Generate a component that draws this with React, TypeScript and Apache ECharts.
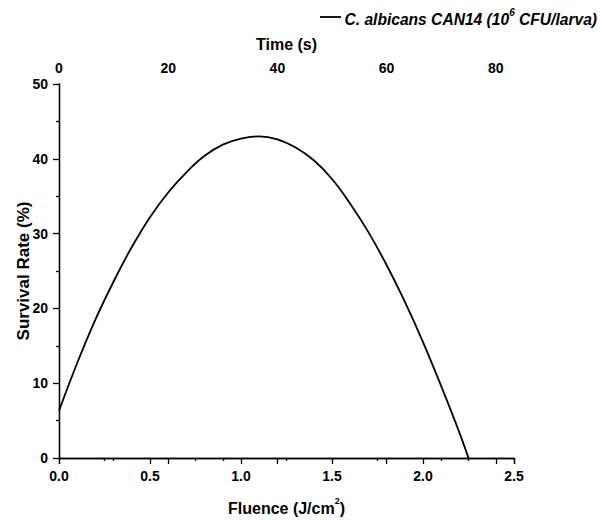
import React, { useEffect, useRef } from "react";
import * as echarts from "echarts";

const fluence = [0, 0.1, 0.2, 0.3, 0.4, 0.5, 0.6, 0.7, 0.8, 0.9, 1.0, 1.1, 1.2, 1.3, 1.4, 1.5, 1.6, 1.7, 1.8, 1.9, 2.0, 2.1, 2.2, 2.25];
const survival = [6.3, 12.7, 18.5, 23.6, 28.2, 32.2, 35.5, 38.2, 40.4, 41.9, 42.7, 43.0, 42.6, 41.5, 39.8, 37.3, 34.0, 30.2, 25.8, 20.9, 15.5, 9.6, 3.4, 0];
const fluenceTicks = [0, 0.5, 1.0, 1.5, 2.0, 2.5];
const timeMax = 83.333;
const seriesName = "C. albicans CAN14";

const FONT = "'Liberation Sans', Arial, sans-serif";

export default function App() {
  const ref = useRef<HTMLDivElement>(null);
  useEffect(() => {
    if (!ref.current) return;
    const chart = echarts.init(ref.current, null, { renderer: "svg" });
    const lbl = { color: "#000", fontFamily: FONT, fontWeight: "bold" as const, fontSize: 14 };
    const nameStyle = { color: "#000", fontFamily: FONT, fontWeight: "bold" as const, fontSize: 16 };
    const line = { show: true, lineStyle: { color: "#000", width: 1.3 } };
    const tick = { color: "#000", width: 1.3 };
    chart.setOption({
      animation: false,
      grid: { left: 59, right: 86, top: 84, bottom: 60, containLabel: false },
      xAxis: [
        {
          type: "value",
          position: "bottom",
          min: fluenceTicks[0],
          max: fluenceTicks[fluenceTicks.length - 1],
          interval: 0.5,
          axisLine: line,
          axisTick: { show: true, inside: false, length: 6, lineStyle: tick },
          minorTick: { show: true, splitNumber: 2, length: 3, lineStyle: tick },
          splitLine: { show: false },
          axisLabel: { ...lbl, margin: 11, formatter: (v: number) => v.toFixed(1) },
          name: "{b|Fluence (J/cm}{s|2}{b|)}",
          nameLocation: "middle",
          nameGap: 38,
          nameMoveOverlap: false,
          nameTextStyle: {
            ...nameStyle,
            rich: {
              b: { ...nameStyle, verticalAlign: "bottom", lineHeight: 20 },
              s: { ...nameStyle, fontSize: 9, verticalAlign: "top", lineHeight: 20 },
            },
          },
        },
        {
          type: "value",
          position: "top",
          min: 0,
          max: timeMax,
          interval: 20,
          axisLine: line,
          axisTick: { show: true, inside: true, length: 6, lineStyle: tick },
          minorTick: { show: true, splitNumber: 2, length: 3, lineStyle: tick },
          splitLine: { show: false },
          axisLabel: { ...lbl, margin: 9, showMaxLabel: false },
          name: "Time (s)",
          nameLocation: "middle",
          nameGap: 32,
          nameMoveOverlap: false,
          nameTextStyle: nameStyle,
        },
      ],
      yAxis: [
        {
          type: "value",
          position: "left",
          min: 0,
          max: 50,
          interval: 10,
          axisLine: line,
          axisTick: { show: true, inside: false, length: 6, lineStyle: tick },
          minorTick: { show: true, splitNumber: 2, length: 3, lineStyle: tick },
          splitLine: { show: false },
          axisLabel: { ...lbl, margin: 11 },
          name: "Survival Rate (%)",
          nameLocation: "middle",
          nameGap: 27,
          nameRotate: 90,
          nameMoveOverlap: false,
          nameTextStyle: { ...nameStyle, fontSize: 17 },
        },
        {
          type: "value",
          position: "right",
          min: 0,
          max: 50,
          axisLine: line,
          axisTick: { show: false },
          axisLabel: { show: false },
          splitLine: { show: false },
        },
      ],
      series: [
        {
          name: seriesName,
          type: "line",
          xAxisIndex: 0,
          yAxisIndex: 0,
          data: fluence.map((f, i) => [f, survival[i]]),
          smooth: 0.4,
          symbol: "none",
          lineStyle: { color: "#000", width: 1.8 },
        },
      ],
      graphic: [
        { type: "line", shape: { x1: 320, y1: 17, x2: 341, y2: 17 }, style: { stroke: "#000", lineWidth: 1.8 } },
        {
          type: "text",
          x: 597,
          y: 17,
          style: {
            text: "{a|C. albicans CAN14 (10}{s|6}{a| CFU/larva)}",
            align: "right",
            verticalAlign: "middle",
            rich: {
              a: { fontFamily: FONT, fontWeight: "bold", fontStyle: "italic", fontSize: 15.6, fill: "#000", verticalAlign: "bottom", lineHeight: 20 },
              s: { fontFamily: FONT, fontWeight: "bold", fontStyle: "italic", fontSize: 10, fill: "#000", verticalAlign: "top", lineHeight: 20 },
            },
          },
        },
      ],
    });
    return () => chart.dispose();
  }, []);
  return <div ref={ref} style={{ position: "absolute", left: 0, top: 0, width: 600, height: 521 }} />;
}
